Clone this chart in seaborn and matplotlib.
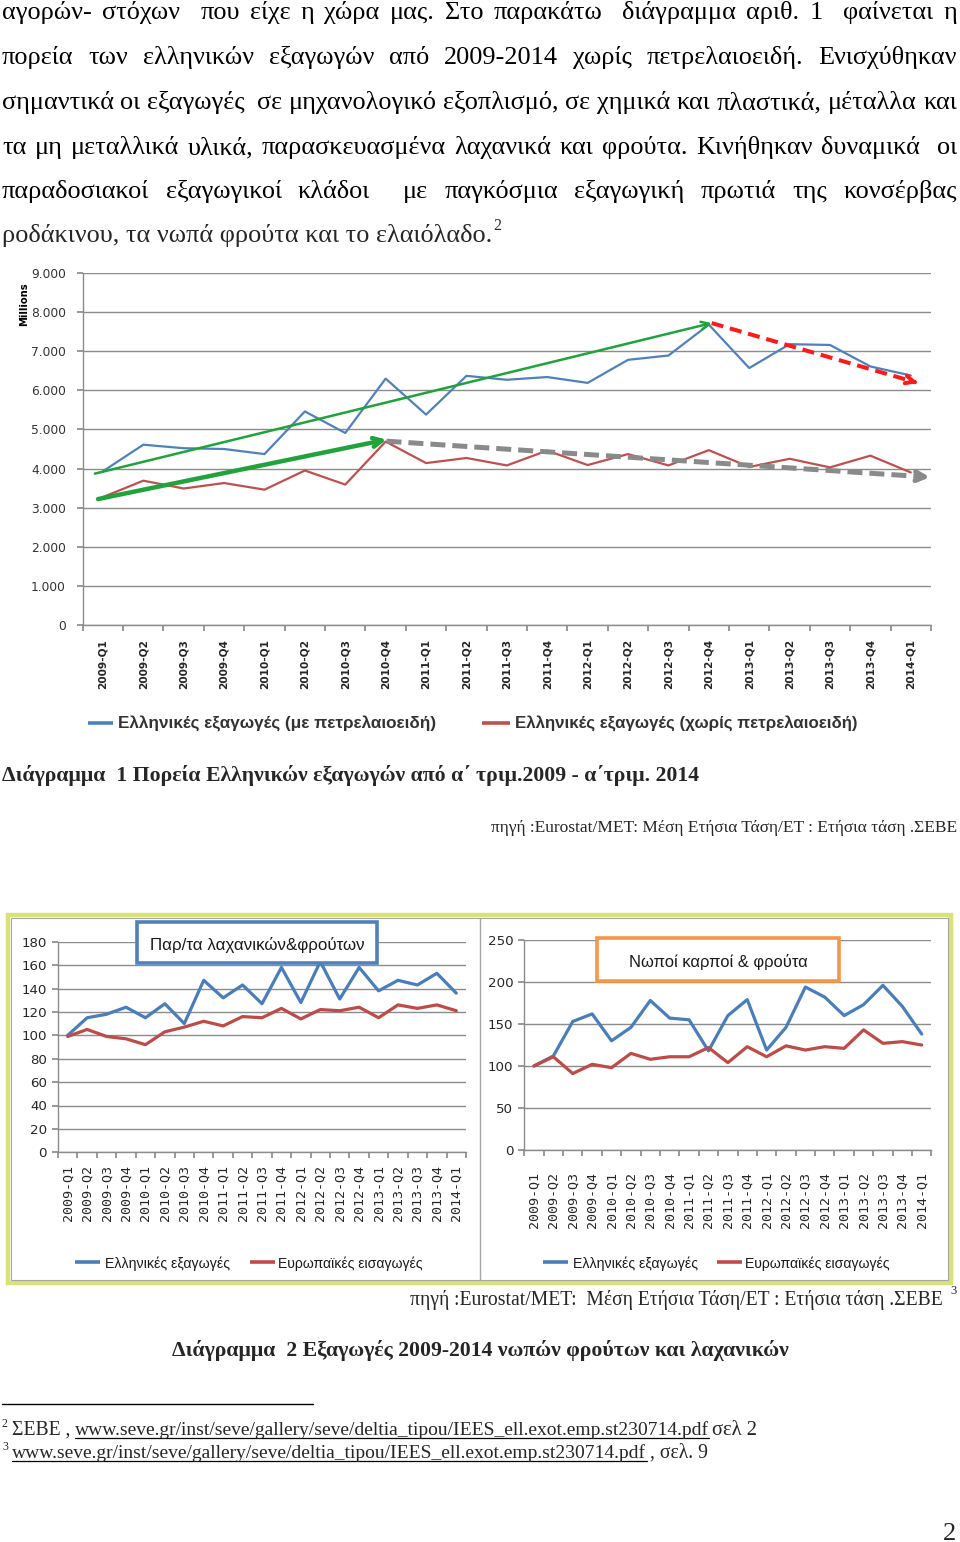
import numpy as np
import pandas as pd
import matplotlib
matplotlib.use("Agg")
import matplotlib.pyplot as plt
import seaborn as sns
from matplotlib import font_manager as fm
from matplotlib.patches import Rectangle
from matplotlib.ticker import FuncFormatter

# ---------------- data ----------------
quarters = ["2009-Q1", "2009-Q2", "2009-Q3", "2009-Q4", "2010-Q1", "2010-Q2", "2010-Q3",
            "2010-Q4", "2011-Q1", "2011-Q2", "2011-Q3", "2011-Q4", "2012-Q1", "2012-Q2",
            "2012-Q3", "2012-Q4", "2013-Q1", "2013-Q2", "2013-Q3", "2013-Q4", "2014-Q1"]

exports_with_oil = [3930, 4610, 4520, 4500, 4370, 5460, 4910, 6300, 5380, 6370, 6270,
                    6340, 6190, 6780, 6890, 7680, 6570, 7180, 7160, 6610, 6380]
exports_without_oil = [3270, 3690, 3490, 3630, 3460, 3950, 3590, 4690, 4140, 4270, 4080,
                       4460, 4090, 4370, 4080, 4470, 4040, 4250, 4030, 4330, 3900]

veg_greek_exports = [100, 115, 118, 124, 115, 127, 110, 147, 132, 143, 127,
                     158, 128, 163, 131, 158, 138, 147, 143, 153, 136]
veg_eu_imports = [99, 105, 99, 97, 92, 103, 107, 112, 108, 116, 115,
                  123, 114, 122, 121, 124, 115, 126, 123, 126, 121]

fruit_greek_exports = [100, 112, 153, 162, 130, 146, 178, 157, 155, 118, 160,
                       179, 119, 146, 194, 182, 160, 173, 196, 171, 138]
fruit_eu_imports = [100, 111, 91, 102, 98, 115, 108, 111, 111, 122, 104,
                    123, 111, 124, 119, 123, 121, 143, 127, 129, 125]

# trend arrows: (quarter index, value) start -> end
trend_all_up = [(-0.2, 3870), (15.07, 7720)]
trend_nonoil_up = [(-0.12, 3220), (7.02, 4740)]
trend_nonoil_down = [(7.02, 4700), (20.47, 3780)]
trend_all_down = [(15.07, 7720), (20.17, 6190)]

main_legend = ["Ελληνικές εξαγωγές (με πετρελαιοειδή)", "Ελληνικές εξαγωγές (χωρίς πετρελαιοειδή)"]
small_legend = ["Ελληνικές εξαγωγές", "Ευρωπαϊκές εισαγωγές"]
small_titles = ["Παρ/τα λαχανικών&φρούτων", "Νωποί καρποί & φρούτα"]

para_lines = [
    "αγορών- στόχων  που είχε η χώρα μας. Στο παρακάτω  διάγραμμα αριθ. 1  φαίνεται η",
    "πορεία των ελληνικών εξαγωγών από 2009-2014 χωρίς πετρελαιοειδή. Ενισχύθηκαν",
    "σημαντικά οι εξαγωγές  σε μηχανολογικό εξοπλισμό, σε χημικά και πλαστικά, μέταλλα και",
    "τα μη μεταλλικά υλικά, παρασκευασμένα λαχανικά και φρούτα. Κινήθηκαν δυναμικά  οι",
    "παραδοσιακοί εξαγωγικοί κλάδοι  με παγκόσμια εξαγωγική πρωτιά της κονσέρβας",
    "ροδάκινου, τα νωπά φρούτα και το ελαιόλαδο.",
]
caption1 = "Διάγραμμα  1 Πορεία Ελληνικών εξαγωγών από α΄ τριμ.2009 - α΄τριμ. 2014"
caption2 = "Διάγραμμα  2 Εξαγωγές 2009-2014 νωπών φρούτων και λαχανικών"
source1 = "πηγή :Eurostat/MET: Μέση Ετήσια Τάση/ET : Ετήσια τάση .ΣΕΒΕ"
source2 = "πηγή :Eurostat/MET:  Μέση Ετήσια Τάση/ET : Ετήσια τάση .ΣΕΒΕ"
url = "www.seve.gr/inst/seve/gallery/seve/deltia_tipou/IEES_ell.exot.emp.st230714.pdf"

# ---------------- style ----------------
sns.set_theme(style="white")
avail = {f.name for f in fm.fontManager.ttflist}
NARROW = "Liberation Sans Narrow" if "Liberation Sans Narrow" in avail else "Liberation Sans"
SERIF = "Liberation Serif"
plt.rcParams["font.family"] = ["DejaVu Sans"]

BLUE = "#4f81bd"
RED = "#c0504d"
GRID = "#8c8c8c"

W, H = 960, 1542
fig = plt.figure(figsize=(W / 100, H / 100), dpi=100)
fig.patch.set_facecolor("white")


def rect(x0, y0, x1, y1):
    return [x0 / W, 1 - y1 / H, (x1 - x0) / W, (y1 - y0) / H]


def long_df(a, b, names):
    return pd.DataFrame({
        "q": list(range(len(quarters))) * 2,
        "value": list(a) + list(b),
        "series": [names[0]] * len(a) + [names[1]] * len(b),
    })


def style_axes(ax, ymax, ystep, fmt, xlab_size, xlab_weight, xlab_family, xpad, ylab_size):
    ax.set_xlim(-0.5, len(quarters) - 0.5)
    ax.set_ylim(0, ymax)
    ax.set_yticks(np.arange(0, ymax + 1, ystep))
    ax.yaxis.set_major_formatter(FuncFormatter(fmt))
    ax.grid(axis="y", color=GRID, lw=1)
    ax.grid(axis="x", visible=False)
    for s in ["top", "right"]:
        ax.spines[s].set_visible(False)
    for s in ["left", "bottom"]:
        ax.spines[s].set_color(GRID)
        ax.spines[s].set_linewidth(1)
    ax.set_xticks(np.arange(-0.5, len(quarters), 1))
    ax.set_xticklabels([])
    ax.set_xticks(np.arange(len(quarters)), minor=True)
    ax.set_xticklabels(quarters, minor=True, rotation=90, fontsize=xlab_size,
                       fontweight=xlab_weight, family=xlab_family, va="top")
    ax.tick_params(axis="x", which="major", length=4, color=GRID, direction="out", bottom=True)
    ax.tick_params(axis="x", which="minor", length=0, pad=xpad, bottom=True)
    ax.tick_params(axis="y", length=4, color=GRID, direction="out", left=True,
                   labelsize=ylab_size, pad=4)
    ax.set_xlabel("")
    ax.set_ylabel("")
    ax.set_facecolor("white")


# ---------------- main chart ----------------
ax1 = fig.add_axes(rect(82.7, 273, 931, 625))
df1 = long_df(exports_with_oil, exports_without_oil, main_legend)
sns.lineplot(data=df1, x="q", y="value", hue="series",
             palette={main_legend[0]: BLUE, main_legend[1]: RED},
             linewidth=1.6, legend=False, ax=ax1)
style_axes(ax1, 9000, 1000,
           lambda v, p: "0" if v == 0 else f"{int(v):,}".replace(",", "."),
           7.6, "bold", "DejaVu Sans", 10, 8.8)
ax1.tick_params(axis="y", pad=8, labelcolor="#333333")


def arrow(ax, pts, color, lw, dashed=None, head=12):
    (x0, y0), (x1, y1) = pts
    if dashed is None:
        ax.annotate("", xy=(x1, y1), xytext=(x0, y0),
                    arrowprops=dict(arrowstyle="->", color=color, lw=lw,
                                    mutation_scale=head, shrinkA=0, shrinkB=0), zorder=5)
    else:
        ax.plot([x0, x1 - (x1 - x0) * 0.01], [y0, y1 - (y1 - y0) * 0.01], color=color, lw=lw,
                ls=(0, dashed), zorder=5, solid_capstyle="butt")
        f = 0.985
        ax.annotate("", xy=(x1, y1), xytext=(x0 + (x1 - x0) * f, y0 + (y1 - y0) * f),
                    arrowprops=dict(arrowstyle="->", color=color, lw=lw,
                                    mutation_scale=head, shrinkA=0, shrinkB=0), zorder=6)


arrow(ax1, trend_all_up, "#1fa33a", 1.8, head=14)
arrow(ax1, trend_nonoil_up, "#1fa33a", 3.2, head=16)
arrow(ax1, trend_nonoil_down, "#8a8a8a", 3.6, dashed=(3, 1.4), head=16)
arrow(ax1, trend_all_down, "#ff1a1a", 2.9, dashed=(3, 1.7), head=14)

# ---------------- small charts ----------------
ax2 = fig.add_axes(rect(58, 941.7, 466, 1152.3))
df2 = long_df(veg_greek_exports, veg_eu_imports, small_legend)
sns.lineplot(data=df2, x="q", y="value", hue="series",
             palette={small_legend[0]: "#4a7ebb", small_legend[1]: "#be4b48"},
             linewidth=2.3, legend=False, ax=ax2)
style_axes(ax2, 180, 20, lambda v, p: f"{int(v)}", 9.6, "normal", "DejaVu Sans Mono", 9.5, 9.6)

ax3 = fig.add_axes(rect(524.3, 940, 931.4, 1150))
df3 = long_df(fruit_greek_exports, fruit_eu_imports, small_legend)
sns.lineplot(data=df3, x="q", y="value", hue="series",
             palette={small_legend[0]: "#4a7ebb", small_legend[1]: "#be4b48"},
             linewidth=2.3, legend=False, ax=ax3)
style_axes(ax3, 250, 50, lambda v, p: f"{int(v)}", 9.6, "normal", "DejaVu Sans Mono", 16, 9.6)

# ---------------- overlay (text, frames, legends) ----------------
ov = fig.add_axes([0, 0, 1, 1], zorder=10)
ov.set_xlim(0, W)
ov.set_ylim(H, 0)
ov.axis("off")
ov.patch.set_alpha(0)
R = fig.canvas.get_renderer()


def width_of(t):
    return t.get_window_extent(R).width


def fit(x, y, s, width, size0=12, ha="left", **kw):
    t = ov.text(x, y, s, fontsize=size0, ha=ha, va="baseline", **kw)
    t.set_fontsize(size0 * width / width_of(t))
    return t


# paragraph size: natural width of line 3 ~ 955 px
probe = ov.text(0, 0, para_lines[2], fontsize=20, family=SERIF)
PSIZE = 20 * 953 / width_of(probe)
probe.remove()


def justify(line, y, x0=2, x1=957):
    tokens = line.split(" ")
    texts = []
    for tok in tokens:
        if tok:
            texts.append(ov.text(0, y, tok, fontsize=PSIZE, family=SERIF, va="baseline",
                                 ha="left", color="black"))
        else:
            texts.append(None)
    widths = [width_of(t) if t is not None else 0 for t in texts]
    ngaps = len(tokens) - 1
    gap = (x1 - x0 - sum(widths)) / ngaps
    x = x0
    for t, w in zip(texts, widths):
        if t is not None:
            t.set_x(x)
            x += w + gap
        else:
            x += gap


baselines = [19, 64, 109, 154, 198, 242]
for ln, yb in zip(para_lines[:-1], baselines[:-1]):
    justify(ln, yb)
last = ov.text(2, baselines[-1], para_lines[-1], fontsize=PSIZE, family=SERIF, va="baseline")
ov.text(2 + width_of(last) + 1, baselines[-1] - 12, "2", fontsize=PSIZE * 0.6, family=SERIF,
        va="baseline")

# main chart extras
ov.text(24, 304, "Millions", rotation=90, ha="center", va="center", fontsize=7.2,
        fontweight="bold", color="black")
ov.plot([88, 113], [723, 723], color=BLUE, lw=2.6, solid_capstyle="butt")
fit(118, 729, main_legend[0], 317, fontweight="bold", family=NARROW, color="#333333")
ov.plot([482, 510], [723, 723], color=RED, lw=2.6, solid_capstyle="butt")
fit(515, 729, main_legend[1], 342, fontweight="bold", family=NARROW, color="#333333")

fit(2, 781, caption1, 692, fontweight="bold", family=SERIF)
fit(957, 832, source1, 468, ha="right", family=SERIF)

# small charts frame
ov.add_patch(Rectangle((8, 915), 943, 368, fill=False, edgecolor="#d8e276", lw=3.2))
ov.add_patch(Rectangle((11, 918), 937, 362, fill=False, edgecolor="#a6a6a6", lw=0.8))
ov.plot([480, 480], [918, 1280], color="#a6a6a6", lw=1)

# title boxes
ov.add_patch(Rectangle((137, 922), 240, 41, facecolor="white", edgecolor="#4f81bd", lw=2.6))
fit(257, 950, small_titles[0], 214, ha="center", family=NARROW, color="#1a1a1a")
ov.add_patch(Rectangle((597, 938), 242, 43, facecolor="white", edgecolor="#f79646", lw=2.6))
fit(718, 967, small_titles[1], 178, ha="center", family=NARROW, color="#1a1a1a")

# small legends
for (xl, xt, xr, xrt) in [(75, 105, 250, 278), (543, 573, 717, 745)]:
    ov.plot([xl, xl + 25], [1262, 1262], color="#4a7ebb", lw=2.6, solid_capstyle="butt")
    fit(xt, 1268, small_legend[0], 125, family=NARROW, color="#1a1a1a")
    ov.plot([xr, xr + 25], [1262, 1262], color="#be4b48", lw=2.6, solid_capstyle="butt")
    fit(xrt, 1268, small_legend[1], 144, family=NARROW, color="#1a1a1a")

fit(943, 1305, source2, 532, ha="right", family=SERIF)
ov.text(950, 1294, "3", fontsize=9, family=SERIF, va="baseline")
fit(480, 1356, caption2, 615, ha="center", fontweight="bold", family=SERIF)

# footnotes
ov.plot([2, 313], [1404, 1404], color="black", lw=1)
ov.text(2, 1427, "2", fontsize=8.5, family=SERIF, va="baseline")
fit(12, 1435, "ΣΕΒΕ ,", 58, family=SERIF)
fit(75, 1435, url, 634, family=SERIF)
ov.plot([75, 709], [1438, 1438], color="black", lw=0.9)
fit(712, 1435, "σελ 2", 45, family=SERIF)
ov.text(2, 1450, "3", fontsize=8.5, family=SERIF, va="baseline")
fit(12, 1458, url, 634, family=SERIF)
ov.plot([12, 647], [1461, 1461], color="black", lw=0.9)
fit(650, 1458, ", σελ. 9", 58, family=SERIF)

ov.text(950, 1540, "2", fontsize=19, family=SERIF, ha="center", va="baseline")

fig.savefig("out.png", dpi=100, facecolor="white")
